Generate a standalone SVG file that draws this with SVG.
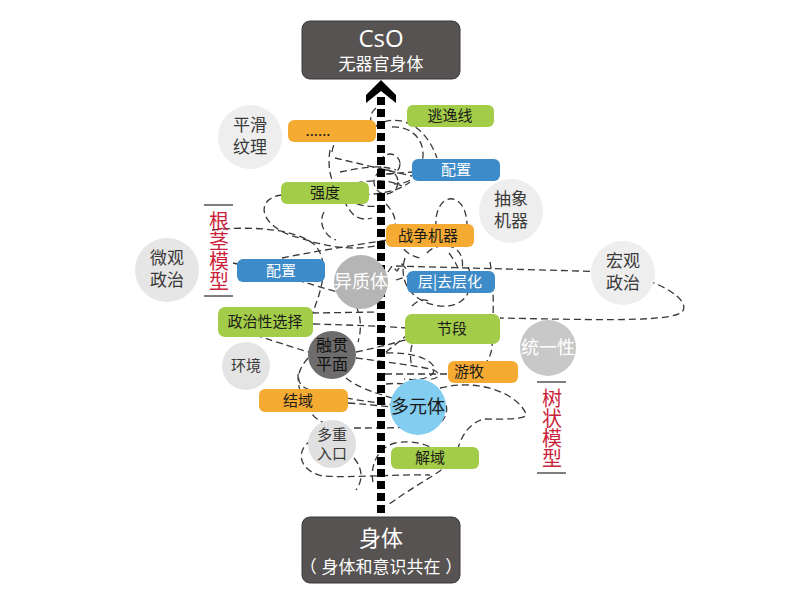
<svg xmlns="http://www.w3.org/2000/svg" width="800" height="597" viewBox="0 0 800 597">
<style>
.d{fill:none;stroke:#383838;stroke-width:1.3;stroke-dasharray:7 4}
.o{fill:#f5aa32}.g{fill:#a3cc49}.b{fill:#3d8bc8}
.t{font-family:"Noto Sans CJK SC","Noto Sans",sans-serif;text-anchor:middle}
.t2{font-family:"Liberation Sans","Noto Sans CJK SC",sans-serif;text-anchor:middle}
.p{font-size:15px;fill:#1a1a1a}
.pw{font-size:15px;fill:#ffffff}
.c{font-size:17px;fill:#3a3a3a}
.r{font-family:"Noto Sans CJK SC","Noto Sans",sans-serif;font-size:20px;fill:#cc1f3a;writing-mode:vertical-rl;text-anchor:start}
.box{fill:#575352;stroke:#3a3a3a;stroke-width:1}
.rl{stroke:#555;stroke-width:1.5}
</style>
<rect width="800" height="597" fill="#ffffff"/>
<g id="connectors">
<path class="d" d="M396,266 L615,272 C660,280 692,300 682,312 C670,322 600,320 500,318"/>
<path class="d" d="M490,262 C495,290 493,320 492,348 C490,360 484,366 476,372"/>
<path class="d" d="M440,388 C480,378 518,394 526,414 C528,420 500,419 484,419 C466,424 460,440 456,455 C448,470 422,480 388,505"/>
<path class="d" d="M312,440 C295,450 298,470 322,476 C352,478 400,474 430,475"/>
<path class="d" d="M354,458 C364,470 362,482 356,490"/>
<path class="d" d="M373,482 C370,468 376,448 395,443 C412,440 425,444 432,448"/>
<path class="d" d="M354,428 C380,428 420,428 436,425 C446,420 448,412 446,404"/>
<path class="d" d="M308,358 C296,372 294,385 310,390 C340,398 370,402 394,405"/>
<path class="d" d="M348,403 C365,404 380,406 394,407"/>
<path class="d" d="M298,374 C298,392 304,405 312,414 C316,419 320,421 326,424"/>
<path class="d" d="M255,335 C280,343 298,349 312,353"/>
<path class="d" d="M356,352 C375,348 395,343 412,338"/>
<path class="d" d="M356,358 C385,362 420,366 434,370 C442,374 438,380 428,379"/>
<path class="d" d="M346,378 C356,386 370,392 396,399"/>
<path class="d" d="M312,313 L378,312"/>
<path class="d" d="M313,324 C350,325 380,326 406,328"/>
<path class="d" d="M356,306 C362,318 361,332 358,342"/>
<path class="d" d="M412,306 C418,300 424,298 430,302"/>
<path class="d" d="M412,345 C410,352 410,360 412,366"/>
<path class="d" d="M386,353 C410,352 430,358 434,367 C436,378 420,381 404,379"/>
<path class="d" d="M385,374 L448,374"/>
<path class="d" d="M386,352 L406,336"/>
<path class="d" d="M368,136 C378,114 420,110 437,158"/>
<path class="d" d="M376,108 C371,112 369,118 372,126"/>
<path class="d" d="M332,152 C334,134 352,128 375,132"/>
<path class="d" d="M330,150 C326,175 335,195 352,202 C362,206 372,208 380,205"/>
<path class="d" d="M392,127 C412,126 424,140 423,156 C421,174 412,184 394,184"/>
<path class="d" d="M335,158 L412,176"/>
<path class="d" d="M340,172 C360,168 380,164 396,170"/>
<path class="d" d="M345,186 C366,180 386,178 402,186"/>
<path class="d" d="M352,198 C370,192 392,196 410,182"/>
<circle class="d" cx="390" cy="164" r="10"/>
<circle class="d" cx="386" cy="182" r="12"/>
<path class="d" d="M386,174 L412,172"/>
<path class="d" d="M436,228 C433,190 468,188 467,228"/>
<path class="d" d="M282,195 C254,198 258,228 300,238 C330,248 360,252 386,243"/>
<path class="d" d="M324,212 C318,222 324,236 336,240"/>
<path class="d" d="M344,200 C350,214 358,222 372,218"/>
<path class="d" d="M386,204 C396,214 398,226 392,234"/>
<path class="d" d="M212,230 C250,226 295,228 315,245 C330,262 322,290 312,314"/>
<path class="d" d="M233,263 C270,270 310,285 338,292"/>
<path class="d" d="M282,258 C310,252 350,246 387,240"/>
<path class="d" d="M388,272 L392,266 L397,271 L402,264 L407,270"/>
<path class="d" d="M396,280 L408,276"/>
<path class="d" d="M405,258 C398,280 410,302 440,306 C465,308 476,290 468,266"/>
<path class="d" d="M427,253 C432,246 446,244 452,247 C460,250 464,258 462,270"/>
<path class="d" d="M449,253 C454,260 458,266 460,274"/>
<path class="d" d="M398,240 C402,250 410,256 420,258"/>
<path class="d" d="M386,384 C404,382 420,386 440,390"/>
</g>
<g id="arrow">
<line x1="381" y1="97" x2="381" y2="517" stroke="#000" stroke-width="8" stroke-dasharray="8 4"/>
<polygon points="381,80 396,95 396,103 381,91 366,103 366,95" fill="#000"/>
</g>
<g id="node-cso">
<rect class="box" x="302" y="21" width="158" height="58" rx="8"/>
<text class="t2" fill="#fff"><tspan x="381" y="47" font-size="24" font-family="'Open Sans','Noto Sans',sans-serif">CsO</tspan><tspan x="381" y="70" font-size="17">无器官身体</tspan></text>
</g>
<g id="node-body">
<rect class="box" x="302" y="517" width="158" height="66" rx="8"/>
<text class="t2" fill="#fff"><tspan x="381" y="546" font-size="22">身体</tspan><tspan x="381" y="573" font-size="17">（ 身体和意识共在 ）</tspan></text>
</g>
<g id="node-smooth"><circle cx="250" cy="137" r="32" fill="#eeeeee"/><text class="t2 c"><tspan x="250" y="131">平滑</tspan><tspan x="250" y="153">纹理</tspan></text></g>
<g id="node-abstract"><circle cx="511" cy="211" r="32" fill="#eeeeee"/><text class="t2 c"><tspan x="511" y="205">抽象</tspan><tspan x="511" y="227">机器</tspan></text></g>
<g id="node-micro"><circle cx="167" cy="270" r="32" fill="#e6e6e6"/><text class="t2 c"><tspan x="167" y="264">微观</tspan><tspan x="167" y="286">政治</tspan></text></g>
<g id="node-macro"><circle cx="623" cy="273" r="32" fill="#eeeeee"/><text class="t2 c"><tspan x="623" y="267">宏观</tspan><tspan x="623" y="289">政治</tspan></text></g>
<g id="node-env"><circle cx="246" cy="366" r="24" fill="#e4e4e4"/><text class="t" x="246" y="371" font-size="15" fill="#3a3a3a">环境</text></g>
<g id="node-multi-entry"><circle cx="332" cy="444" r="24" fill="#e0e0e0"/><text class="t2" font-size="15" fill="#3a3a3a"><tspan x="332" y="440">多重</tspan><tspan x="332" y="459">入口</tspan></text></g>
<g id="node-hetero"><circle cx="361" cy="282" r="27" fill="#b5b5b5"/><text class="t" x="361" y="288" font-size="18" fill="#fff">异质体</text></g>
<g id="node-plane"><circle cx="332" cy="355" r="24" fill="#6e6c6c"/><text class="t2" font-size="16" fill="#111"><tspan x="332" y="351">融贯</tspan><tspan x="332" y="370">平面</tspan></text></g>
<g id="node-unity"><circle cx="548" cy="348" r="28" fill="#c8c8c8"/><text class="t" x="548" y="354" font-size="18" fill="#fff">统一性</text></g>
<g id="node-multiplicity"><circle cx="418" cy="407" r="28" fill="#82cdf0"/><text class="t" x="418" y="413" font-size="18" fill="#1a1a1a">多元体</text></g>
<g id="node-dots"><rect class="o" x="288" y="120" width="88" height="22" rx="6"/><text class="t p" x="318" y="136">......</text></g>
<g id="node-flight"><rect class="g" x="407" y="105" width="87" height="22" rx="6"/><text class="t p" x="450" y="121">逃逸线</text></g>
<g id="node-config1"><rect class="b" x="412" y="159" width="88" height="22" rx="6"/><text class="t pw" x="456" y="175">配置</text></g>
<g id="node-intensity"><rect class="g" x="281" y="182" width="88" height="22" rx="6"/><text class="t p" x="325" y="198">强度</text></g>
<g id="node-warmachine"><rect class="o" x="386" y="224" width="88" height="23" rx="6"/><text class="t p" x="428" y="241">战争机器</text></g>
<g id="node-config2"><rect class="b" x="237" y="259" width="88" height="23" rx="6"/><text class="t pw" x="281" y="276">配置</text></g>
<g id="node-strata"><rect class="b" x="407" y="271" width="88" height="22" rx="6"/><text class="t pw" x="450" y="287">层|去层化</text></g>
<g id="node-politics"><rect class="g" x="218" y="307" width="95" height="30" rx="7"/><text class="t p" x="265" y="327">政治性选择</text></g>
<g id="node-segment"><rect class="g" x="405" y="314" width="95" height="30" rx="7"/><text class="t p" x="452" y="334">节段</text></g>
<g id="node-nomad"><rect class="o" x="448" y="361" width="70" height="22" rx="6"/><text class="t p" x="469" y="377">游牧</text></g>
<g id="node-territory"><rect class="o" x="259" y="389" width="89" height="23" rx="6"/><text class="t p" x="298" y="406">结域</text></g>
<g id="node-deterritory"><rect class="g" x="391" y="447" width="88" height="22" rx="6"/><text class="t p" x="430" y="463">解域</text></g>
<g id="label-rhizome">
<line class="rl" x1="204" y1="205" x2="233" y2="205"/>
<line class="rl" x1="204" y1="296" x2="233" y2="296"/>
<text class="r" x="219" y="211">根茎模型</text>
</g>
<g id="label-tree">
<line class="rl" x1="537" y1="382" x2="566" y2="382"/>
<line class="rl" x1="537" y1="473" x2="566" y2="473"/>
<text class="r" x="552" y="388">树状模型</text>
</g>
</svg>
